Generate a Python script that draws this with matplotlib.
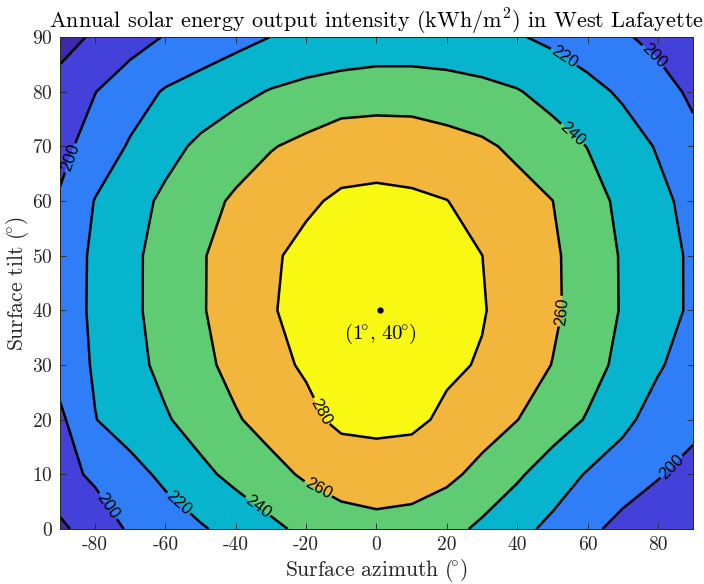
import numpy as np
import matplotlib
matplotlib.use("Agg")
import matplotlib.pyplot as plt
from matplotlib.colors import ListedColormap, BoundaryNorm

plt.rcParams['font.family'] = ['cmr10', 'DejaVu Serif']
plt.rcParams['mathtext.fontset'] = 'cm'
plt.rcParams['axes.unicode_minus'] = False
plt.rcParams['axes.formatter.use_mathtext'] = True

# Grid axes (degrees)
azimuth = [-90, -80, -70, -60, -50, -40, -30, -20, -10, 0, 10, 20, 30, 40, 50, 60, 70, 80, 90]
tilt = [0, 10, 20, 30, 40, 50, 60, 70, 80, 90]

# Annual output (kWh/m^2), one row per tilt
out_t0 = [176, 190, 202.3, 210.2, 218, 226.7, 235.7, 244.7, 251.5, 254, 252.3, 246.4, 236.1, 225.8, 215.2, 204.4, 194, 187, 182]
out_t10 = [194, 203.1, 213.5, 224.2, 235.4, 245.2, 254.1, 262.7, 268.4, 270.6, 269.2, 264.2, 254.7, 242.8, 230.4, 218.5, 210, 201.5, 193]
out_t20 = [196, 219.5, 228.9, 238.2, 248.2, 258.3, 267.1, 275.6, 284, 285, 284, 276.5, 268.4, 260.3, 249.6, 238.5, 224.8, 212, 206]
out_t30 = [208, 222.1, 234, 245.1, 255.4, 265.6, 275.7, 282, 285, 286.7, 286, 283, 278.6, 269.2, 259.6, 247.4, 235, 222.1, 211]
out_t40 = [210.4, 223.2, 236, 247.5, 258.4, 268.7, 278.9, 285, 286.5, 288, 287, 284, 281.2, 272.2, 263.2, 251.4, 238.5, 227.8, 217]
out_t50 = [210, 223, 235.9, 247.4, 258.4, 268, 278, 284, 285.5, 286.7, 285.5, 282.5, 280.1, 271.5, 262.9, 251.2, 238.3, 227.7, 217]
out_t60 = [202, 220.8, 232.5, 243.8, 253.7, 262.7, 270.1, 277.6, 282.5, 283.5, 282.5, 280.3, 273.6, 266.9, 260.2, 247.6, 235.7, 224.9, 214]
out_t70 = [194.4, 208.4, 222, 233.8, 243.7, 251.3, 258.9, 264.6, 272, 273, 272, 267.2, 263.1, 256.3, 248, 239.6, 229, 218.5, 205]
out_t80 = [187, 199.6, 211.3, 221.7, 228.3, 234.9, 241.2, 245.6, 248.5, 250, 250, 248.6, 245.6, 241.2, 233.7, 225.8, 217.2, 207, 196.8]
out_t90 = [173, 182.6, 192, 201.1, 207.5, 213.9, 220.2, 223.5, 226.5, 228.5, 228.5, 227, 224.5, 221.5, 216, 209.1, 202.1, 195.2, 188.3]

unlabeled_levels = [180]
labeled_levels = [200, 220, 240, 260, 280]
fill_colors = ['#3e2aaa', '#4440da', '#2f7ef7', '#06b4cd', '#5fcb72', '#f1b63b', '#f8f813']
xtick_vals = [-80, -60, -40, -20, 0, 20, 40, 60, 80]
xtick_labels = ['-80', '-60', '-40', '-20', '0', '20', '40', '60', '80']
ytick_vals = [0, 10, 20, 30, 40, 50, 60, 70, 80, 90]
opt_az, opt_tilt = 1, 40

Z = np.array([out_t0, out_t10, out_t20, out_t30, out_t40, out_t50, out_t60, out_t70, out_t80, out_t90])
A, T = np.meshgrid(azimuth, tilt)

fig = plt.figure(figsize=(7.04, 5.84), dpi=100)
ax = fig.add_axes([0.0852, 0.0942, 0.8992, 0.8424])

bounds = [-1e9] + unlabeled_levels + labeled_levels + [1e9]
cmap = ListedColormap(fill_colors)
norm = BoundaryNorm(bounds, cmap.N)
ax.contourf(A, T, Z, levels=bounds, cmap=cmap, norm=norm)
ax.contour(A, T, Z, levels=unlabeled_levels, colors='k', linewidths=1.8)
cs = ax.contour(A, T, Z, levels=labeled_levels, colors='k', linewidths=1.8)

label_pos = [(-87.5, 68), (78.3, 86.2), (53.8, 86.8), (56, 72.4), (53.7, 39.7),
             (-18, 20.8), (-17.1, 6.7), (-34.2, 3.7), (-56.9, 4.3), (-79.7, 2.7), (84.5, 11)]
lbls = ax.clabel(cs, manual=label_pos, fmt='%d', fontsize=12,
                 inline=True, inline_spacing=3)
for t in lbls:
    t.set_fontfamily(['Liberation Sans', 'DejaVu Sans'])

ax.plot([opt_az], [opt_tilt], 'o', color='k', markersize=3.5)
ax.text(opt_az, opt_tilt - 2.2, r'$(%d\!^{\circ},\, %d\!^{\circ})$' % (opt_az, opt_tilt),
        ha='center', va='top', fontsize=15)

ax.set_xlim(-90, 90)
ax.set_ylim(0, 90)
ax.set_xticks(xtick_vals, labels=xtick_labels)
ax.set_yticks(ytick_vals)
ax.tick_params(direction='in', length=4.5, width=0.6, top=True, right=True,
               labelsize=14, colors='#262626', pad=5)
for s in ax.spines.values():
    s.set_color('#262626')
    s.set_linewidth(0.7)

ax.set_xlabel(r'Surface azimuth $(\!^{\circ})$', fontsize=15.5, color='#262626', labelpad=2)
ax.set_ylabel(r'Surface tilt $(\!^{\circ})$', fontsize=15.5, color='#262626', labelpad=1)
ax.set_title(r'Annual solar energy output intensity (kWh/m$^2$) in West Lafayette',
             fontsize=16, color='#000000', pad=6)

fig.savefig('out.png', dpi=100)
